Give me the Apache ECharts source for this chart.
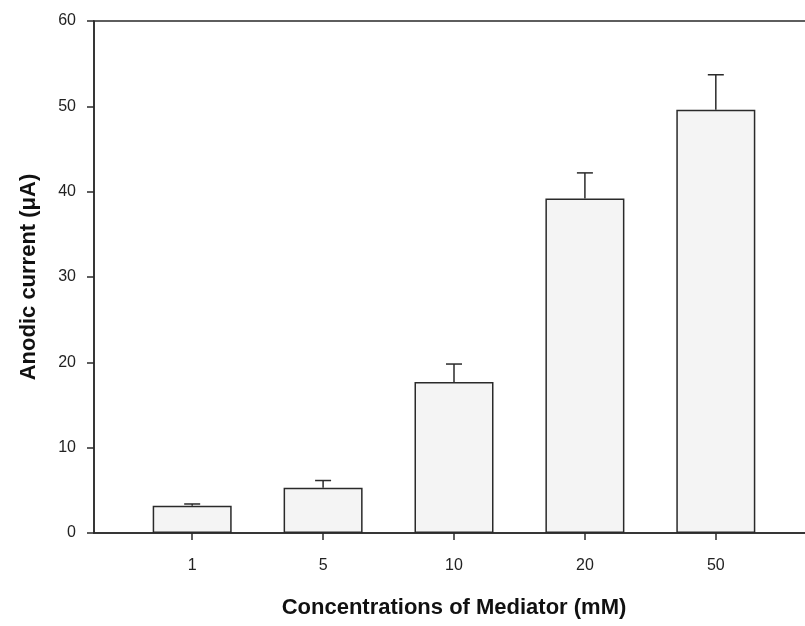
<!DOCTYPE html>
<html>
<head>
<meta charset="utf-8">
<script src="https://cdn.jsdelivr.net/npm/echarts@6/dist/echarts.min.js"></script>
<style>
  html, body { margin: 0; padding: 0; background: #fff; }
  #chart { width: 805px; height: 626px; }
</style>
</head>
<body>
<div id="chart"></div>
<script>
// Mediator concentrations (mM) and measured anodic current (µA)
const categories = ['1', '5', '10', '20', '50'];
const positions = [1, 2, 3, 4, 5];
const currents = [3.2, 5.3, 17.7, 39.2, 49.6];
const errors = [0.2, 0.85, 2.1, 3.0, 4.1];
const yTicks = [0, 10, 20, 30, 40, 50, 60];

const ink = '#2a2a2a';
const font = '"Liberation Sans", Arial, sans-serif';

const barData = positions.map((p, i) => [p, currents[i]]);
const errData = positions.map((p, i) => [p, currents[i], currents[i] + errors[i]]);

const chart = echarts.init(document.getElementById('chart'));
chart.setOption({
  animation: false,
  backgroundColor: '#ffffff',
  grid: {
    left: 94, top: 21, width: 720, height: 512,
    outerBoundsMode: 'none',
    containLabel: false,
    show: true, borderColor: ink, borderWidth: 1.5, backgroundColor: 'transparent'
  },
  xAxis: {
    type: 'value',
    min: 0.25, max: 5.75,
    name: 'Concentrations of Mediator (mM)',
    nameLocation: 'middle',
    nameGap: 64,
    nameTextStyle: { fontFamily: font, fontSize: 22, fontWeight: 'bold', color: '#111' },
    axisLine: { show: true, onZero: false, lineStyle: { color: ink, width: 1.5 } },
    axisTick: { show: true, length: 7, customValues: positions, lineStyle: { color: ink, width: 1.5 } },
    axisLabel: {
      customValues: positions,
      margin: 25,
      fontFamily: font, fontSize: 16, color: '#222',
      formatter: v => categories[Math.round(v) - 1] || ''
    },
    splitLine: { show: false }
  },
  yAxis: {
    type: 'value',
    min: 0, max: 60, interval: 10,
    name: 'Anodic current (\u03bcA)',
    nameLocation: 'middle',
    nameGap: 54,
    nameTextStyle: { fontFamily: font, fontSize: 22, fontWeight: 'bold', color: '#111' },
    axisLine: { show: true, lineStyle: { color: ink, width: 1.5 } },
    axisTick: { show: true, length: 7, lineStyle: { color: ink, width: 1.5 } },
    axisLabel: {
      customValues: yTicks,
      margin: 18,
      fontFamily: font, fontSize: 16, color: '#222'
    },
    splitLine: { show: false }
  },
  series: [
    {
      type: 'bar',
      data: barData,
      barWidth: 79,
      itemStyle: { color: '#f4f4f4', borderColor: ink, borderWidth: 1.5 },
      z: 2
    },
    {
      type: 'custom',
      data: errData,
      z: 3,
      renderItem: function (params, api) {
        const x = api.value(0);
        const base = api.coord([x, api.value(1)]);
        const top = api.coord([x, api.value(2)]);
        const half = 8;
        const style = { stroke: ink, lineWidth: 1.5, fill: null };
        return {
          type: 'group',
          children: [
            { type: 'line', shape: { x1: base[0], y1: base[1], x2: top[0], y2: top[1] }, style: style },
            { type: 'line', shape: { x1: top[0] - half, y1: top[1], x2: top[0] + half, y2: top[1] }, style: style }
          ]
        };
      }
    }
  ]
});
</script>
</body>
</html>
